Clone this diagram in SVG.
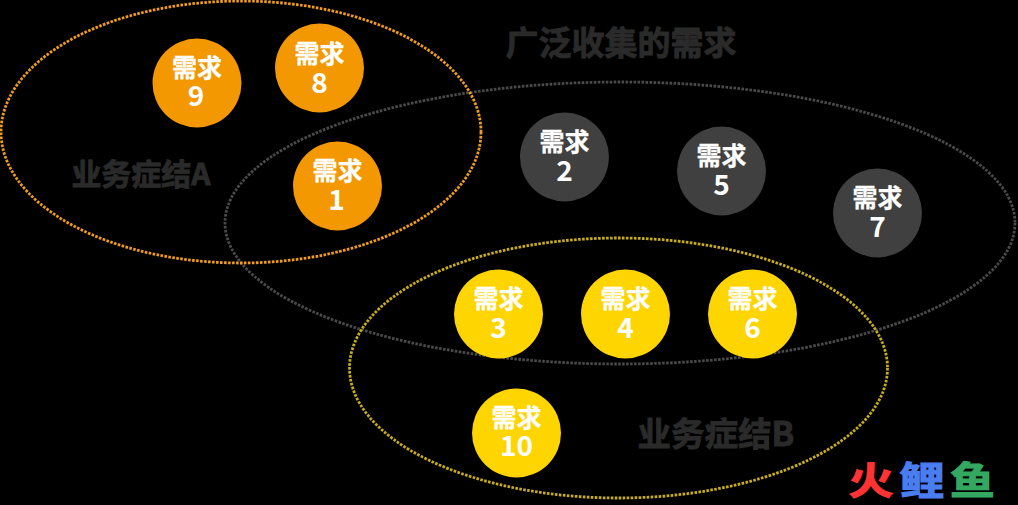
<svg xmlns="http://www.w3.org/2000/svg" width="1018" height="505" viewBox="0 0 1018 505">
<style>
text{font-family:"Noto Sans CJK SC","Noto Sans",sans-serif;font-weight:700;text-anchor:middle}
.lb{font-size:25px;fill:#fff;stroke:#fff;stroke-width:.3}
.num{font-size:28px;fill:#fff;font-weight:700}
.hd{font-size:30px;fill:#2a2a2a;stroke:#2a2a2a;stroke-width:.9}
.o{fill:#f39800}.g{fill:#404040}.y{fill:#ffd500}
.ring{fill:none;stroke-width:2.8;stroke-dasharray:2.6 1.4}
.logo{font-size:38px;stroke-width:1.2}
</style>
<rect width="1018" height="505" fill="#000"/>
<g id="connectors">
<ellipse class="ring" cx="620" cy="223" rx="395" ry="141" stroke="#4a4a4a"/>
<ellipse class="ring" cx="241" cy="132" rx="240" ry="131" stroke="#f09c18"/>
<ellipse class="ring" cx="618.500" cy="368" rx="269" ry="130" stroke="#c9ad18"/>
</g>
<g id="title-main"><text class="hd" x="621" y="55" style="font-size:33px">广泛收集的需求</text></g>
<g id="group-a"><text class="hd" x="141" y="185">业务症结A</text></g>
<g id="group-b"><text class="hd" x="716" y="446" style="font-size:33.5px">业务症结B</text></g>
<g id="n9"><circle class="o" cx="197" cy="83" r="44.500"/><text class="lb" x="197" y="77">需求</text><text class="num" x="196" y="106">9</text></g>
<g id="n8"><circle class="o" cx="319.500" cy="68" r="44.500"/><text class="lb" x="319.500" y="63">需求</text><text class="num" x="319.500" y="93">8</text></g>
<g id="n1"><circle class="o" cx="337.500" cy="186" r="44.500"/><text class="lb" x="337.500" y="180">需求</text><text class="num" x="336.500" y="210">1</text></g>
<g id="n2"><circle class="g" cx="564.500" cy="157" r="44.500"/><text class="lb" x="564.500" y="151">需求</text><text class="num" x="564.500" y="181">2</text></g>
<g id="n5"><circle class="g" cx="721.500" cy="171" r="44.500"/><text class="lb" x="721.500" y="165">需求</text><text class="num" x="721.500" y="195">5</text></g>
<g id="n7"><circle class="g" cx="877.500" cy="213" r="44.500"/><text class="lb" x="877.500" y="207">需求</text><text class="num" x="877.500" y="237">7</text></g>
<g id="n3"><circle class="y" cx="498.500" cy="314" r="44.500"/><text class="lb" x="498.500" y="308">需求</text><text class="num" x="498.500" y="338">3</text></g>
<g id="n4"><circle class="y" cx="625.500" cy="314" r="44.500"/><text class="lb" x="625.500" y="308">需求</text><text class="num" x="625.500" y="338">4</text></g>
<g id="n6"><circle class="y" cx="752.500" cy="314" r="44.500"/><text class="lb" x="752.500" y="308">需求</text><text class="num" x="752.500" y="338">6</text></g>
<g id="n10"><circle class="y" cx="516.500" cy="433" r="44.500"/><text class="lb" x="516.500" y="427">需求</text><text class="num" x="516.500" y="456">10</text></g>
<g id="logo">
<text class="logo" transform="translate(871 494) scale(1.18 1)" fill="#ff3333" stroke="#ff3333">火</text>
<text class="logo" transform="translate(922 494) scale(1.18 1)" fill="#4a7df0" stroke="#4a7df0">鲤</text>
<text class="logo" transform="translate(972.500 494) scale(1.18 1)" fill="#34a860" stroke="#34a860">鱼</text>
</g>
</svg>
